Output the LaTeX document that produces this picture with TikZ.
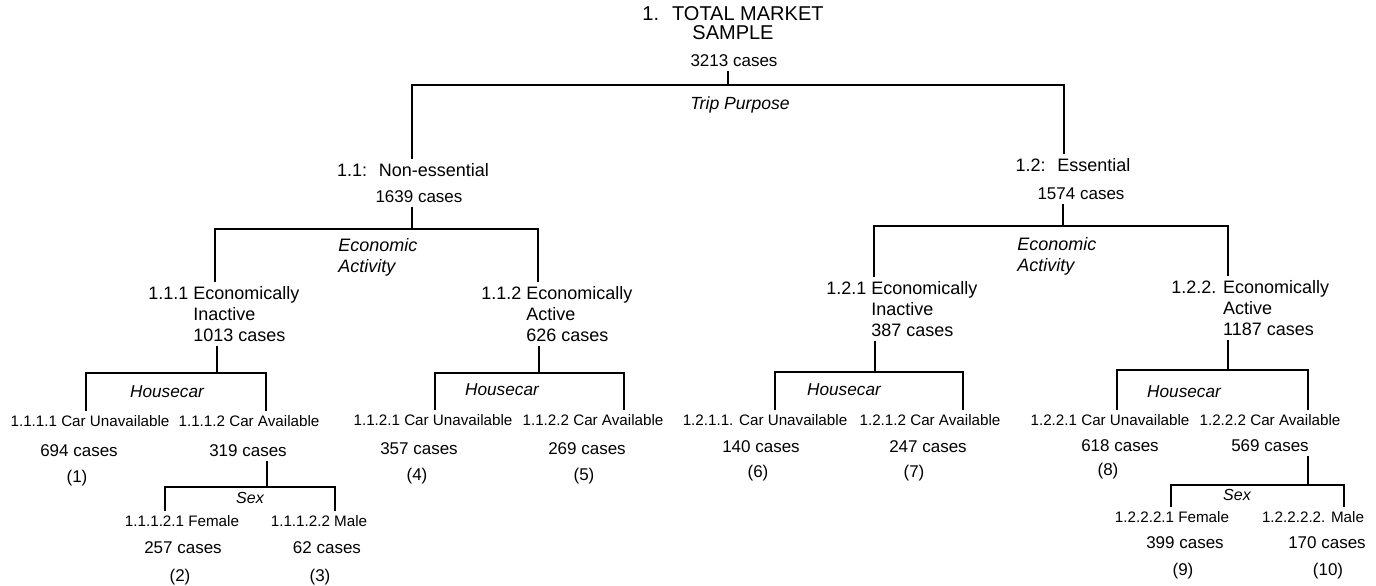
\documentclass[tikz,border=0pt]{standalone}
\usepackage{fontspec}
\setmainfont{Liberation Sans}

\begin{document}
\begin{tikzpicture}[x=0.5pt,y=-0.5pt,
  ttl/.style={font=\fontsize{10}{9.5}\selectfont,align=center,inner sep=2pt},
  grp/.style={font=\fontsize{9}{10.4}\selectfont,align=left,inner sep=2pt},
  crit/.style={font=\fontsize{#1}{10.5}\selectfont\itshape,align=left,inner sep=1pt},
  leaf/.style={font=\fontsize{7.6}{9}\selectfont,inner sep=2pt},
  cnt/.style={font=\fontsize{8.5}{10}\selectfont,inner sep=2pt},
  lnk/.style={line width=0.9pt}
]
\useasboundingbox (0,0) rectangle (1376,585);

\node[ttl] (t1) at (733,23) {1.~ TOTAL MARKET\\SAMPLE};
\node[cnt] (c1) at (734,61) {3213 cases};
\node[crit=8.8] (s1) at (740,105) {Trip Purpose};

\node[grp] (t11) at (413,170) {1.1:~ Non-essential};
\node[cnt] (c11) at (419,197) {1639 cases};
\node[grp] (t12) at (1073,165) {1.2:~ Essential};
\node[cnt] (c12) at (1081,194) {1574 cases};
\node[crit=9,anchor=north west] (s11) at (336,236) {Economic\\Activity};
\node[crit=9,anchor=north west] (s12) at (1015,235) {Economic\\Activity};

\node[grp,anchor=north west] (t111) at (144,282) {1.1.1 Economically\\\hphantom{1.1.1 }Inactive\\\hphantom{1.1.1 }1013 cases};
\node[grp,anchor=north west] (t112) at (477,282) {1.1.2 Economically\\\hphantom{1.1.2 }Active\\\hphantom{1.1.2 }626 cases};
\node[grp,anchor=north west] (t121) at (822,277) {1.2.1 Economically\\\hphantom{1.2.1 }Inactive\\\hphantom{1.2.1 }387 cases};
\node[grp,anchor=north west] (t122) at (1167,276) {1.2.2. Economically\\\hphantom{1.2.2. }Active\\\hphantom{1.2.2. }1187 cases};

\node[crit=8.6] (s111) at (167,392) {Housecar};
\node[crit=8.6] (s112) at (502,390) {Housecar};
\node[crit=8.6] (s121) at (844,390) {Housecar};
\node[crit=8.6] (s122) at (1184,392) {Housecar};

\node[leaf] (t1111) at (90,421) {1.1.1.1 Car Unavailable};
\node[leaf] (t1112) at (249,421) {1.1.1.2 Car Available};
\node[leaf] (t1121) at (433,420) {1.1.2.1 Car Unavailable};
\node[leaf] (t1122) at (593,420) {1.1.2.2 Car Available};
\node[leaf] (t1211) at (765,420) {1.2.1.1. Car Unavailable};
\node[leaf] (t1212) at (930,420) {1.2.1.2 Car Available};
\node[leaf] (t1221) at (1110,420) {1.2.2.1 Car Unavailable};
\node[leaf] (t1222) at (1270,420) {1.2.2.2 Car Available};

\node[cnt] (c1111) at (79,451) {694 cases};
\node[cnt] (c1112) at (248,451) {319 cases};
\node[cnt] (c1121) at (419,449) {357 cases};
\node[cnt] (c1122) at (587,449) {269 cases};
\node[cnt] (c1211) at (761,447) {140 cases};
\node[cnt] (c1212) at (928,447) {247 cases};
\node[cnt] (c1221) at (1120,446) {618 cases};
\node[cnt] (c1222) at (1270,446) {569 cases};

\node[cnt] (g1) at (77,478) {(1)};
\node[cnt] (g4) at (417,476) {(4)};
\node[cnt] (g5) at (584,476) {(5)};
\node[cnt] (g6) at (758,473) {(6)};
\node[cnt] (g7) at (914,473) {(7)};
\node[cnt] (g8) at (1108,471) {(8)};

\node[crit=8] (s1112) at (250,498) {Sex};
\node[crit=8] (s1222) at (1237,495) {Sex};

\node[leaf] (t11121) at (182,521) {1.1.1.2.1 Female};
\node[leaf] (t11122) at (319,521) {1.1.1.2.2 Male};
\node[leaf] (t12221) at (1172,517) {1.2.2.2.1 Female};
\node[leaf] (t12222) at (1313,517) {1.2.2.2.2. Male};

\node[cnt] (c11121) at (183,548) {257 cases};
\node[cnt] (c11122) at (327,548) {62 cases};
\node[cnt] (c12221) at (1185,543) {399 cases};
\node[cnt] (c12222) at (1327,543) {170 cases};

\node[cnt] (g2) at (180,577) {(2)};
\node[cnt] (g3) at (320,577) {(3)};
\node[cnt] (g9) at (1183,571) {(9)};
\node[cnt] (g10) at (1328,571) {(10)};

\coordinate (j1) at (728,85);  \coordinate (l1) at (412,85);  \coordinate (r1) at (1064,85);
\coordinate (j2) at (412,229); \coordinate (l2) at (215,229); \coordinate (r2) at (538,229);
\coordinate (j3) at (1063,226);\coordinate (l3) at (874,226); \coordinate (r3) at (1228,226);
\coordinate (j4) at (217,373); \coordinate (l4) at (86,373);  \coordinate (r4) at (266,373);
\coordinate (j5) at (539,373); \coordinate (l5) at (435,373); \coordinate (r5) at (624,373);
\coordinate (j6) at (875,372); \coordinate (l6) at (775,372); \coordinate (r6) at (963,372);
\coordinate (j7) at (1228,370);\coordinate (l7) at (1117,370);\coordinate (r7) at (1308,370);
\coordinate (j8) at (267,487); \coordinate (l8) at (165,487); \coordinate (r8) at (335,487);
\coordinate (j9) at (1308,485);\coordinate (l9) at (1171,485);\coordinate (r9) at (1344,485);

\draw[lnk] (c1.south -| j1) -- (j1);
\draw[lnk] (t11.north -| l1) -- (l1) -- (r1) -- (t12.north -| r1);
\draw[lnk] (c11.south -| j2) -- (j2);
\draw[lnk] (t111.north -| l2) -- (l2) -- (r2) -- (t112.north -| r2);
\draw[lnk] (c12.south -| j3) -- (j3);
\draw[lnk] (t121.north -| l3) -- (l3) -- (r3) -- (t122.north -| r3);
\draw[lnk] (t111.south -| j4) -- (j4);
\draw[lnk] (t1111.north -| l4) -- (l4) -- (r4) -- (t1112.north -| r4);
\draw[lnk] (t112.south -| j5) -- (j5);
\draw[lnk] (t1121.north -| l5) -- (l5) -- (r5) -- (t1122.north -| r5);
\draw[lnk] (t121.south -| j6) -- (j6);
\draw[lnk] (t1211.north -| l6) -- (l6) -- (r6) -- (t1212.north -| r6);
\draw[lnk] (t122.south -| j7) -- (j7);
\draw[lnk] (t1221.north -| l7) -- (l7) -- (r7) -- (t1222.north -| r7);
\draw[lnk] (c1112.south -| j8) -- (j8);
\draw[lnk] (t11121.north -| l8) -- (l8) -- (r8) -- (t11122.north -| r8);
\draw[lnk] (c1222.south -| j9) -- (j9);
\draw[lnk] (t12221.north -| l9) -- (l9) -- (r9) -- (t12222.north -| r9);
\end{tikzpicture}
\end{document}
